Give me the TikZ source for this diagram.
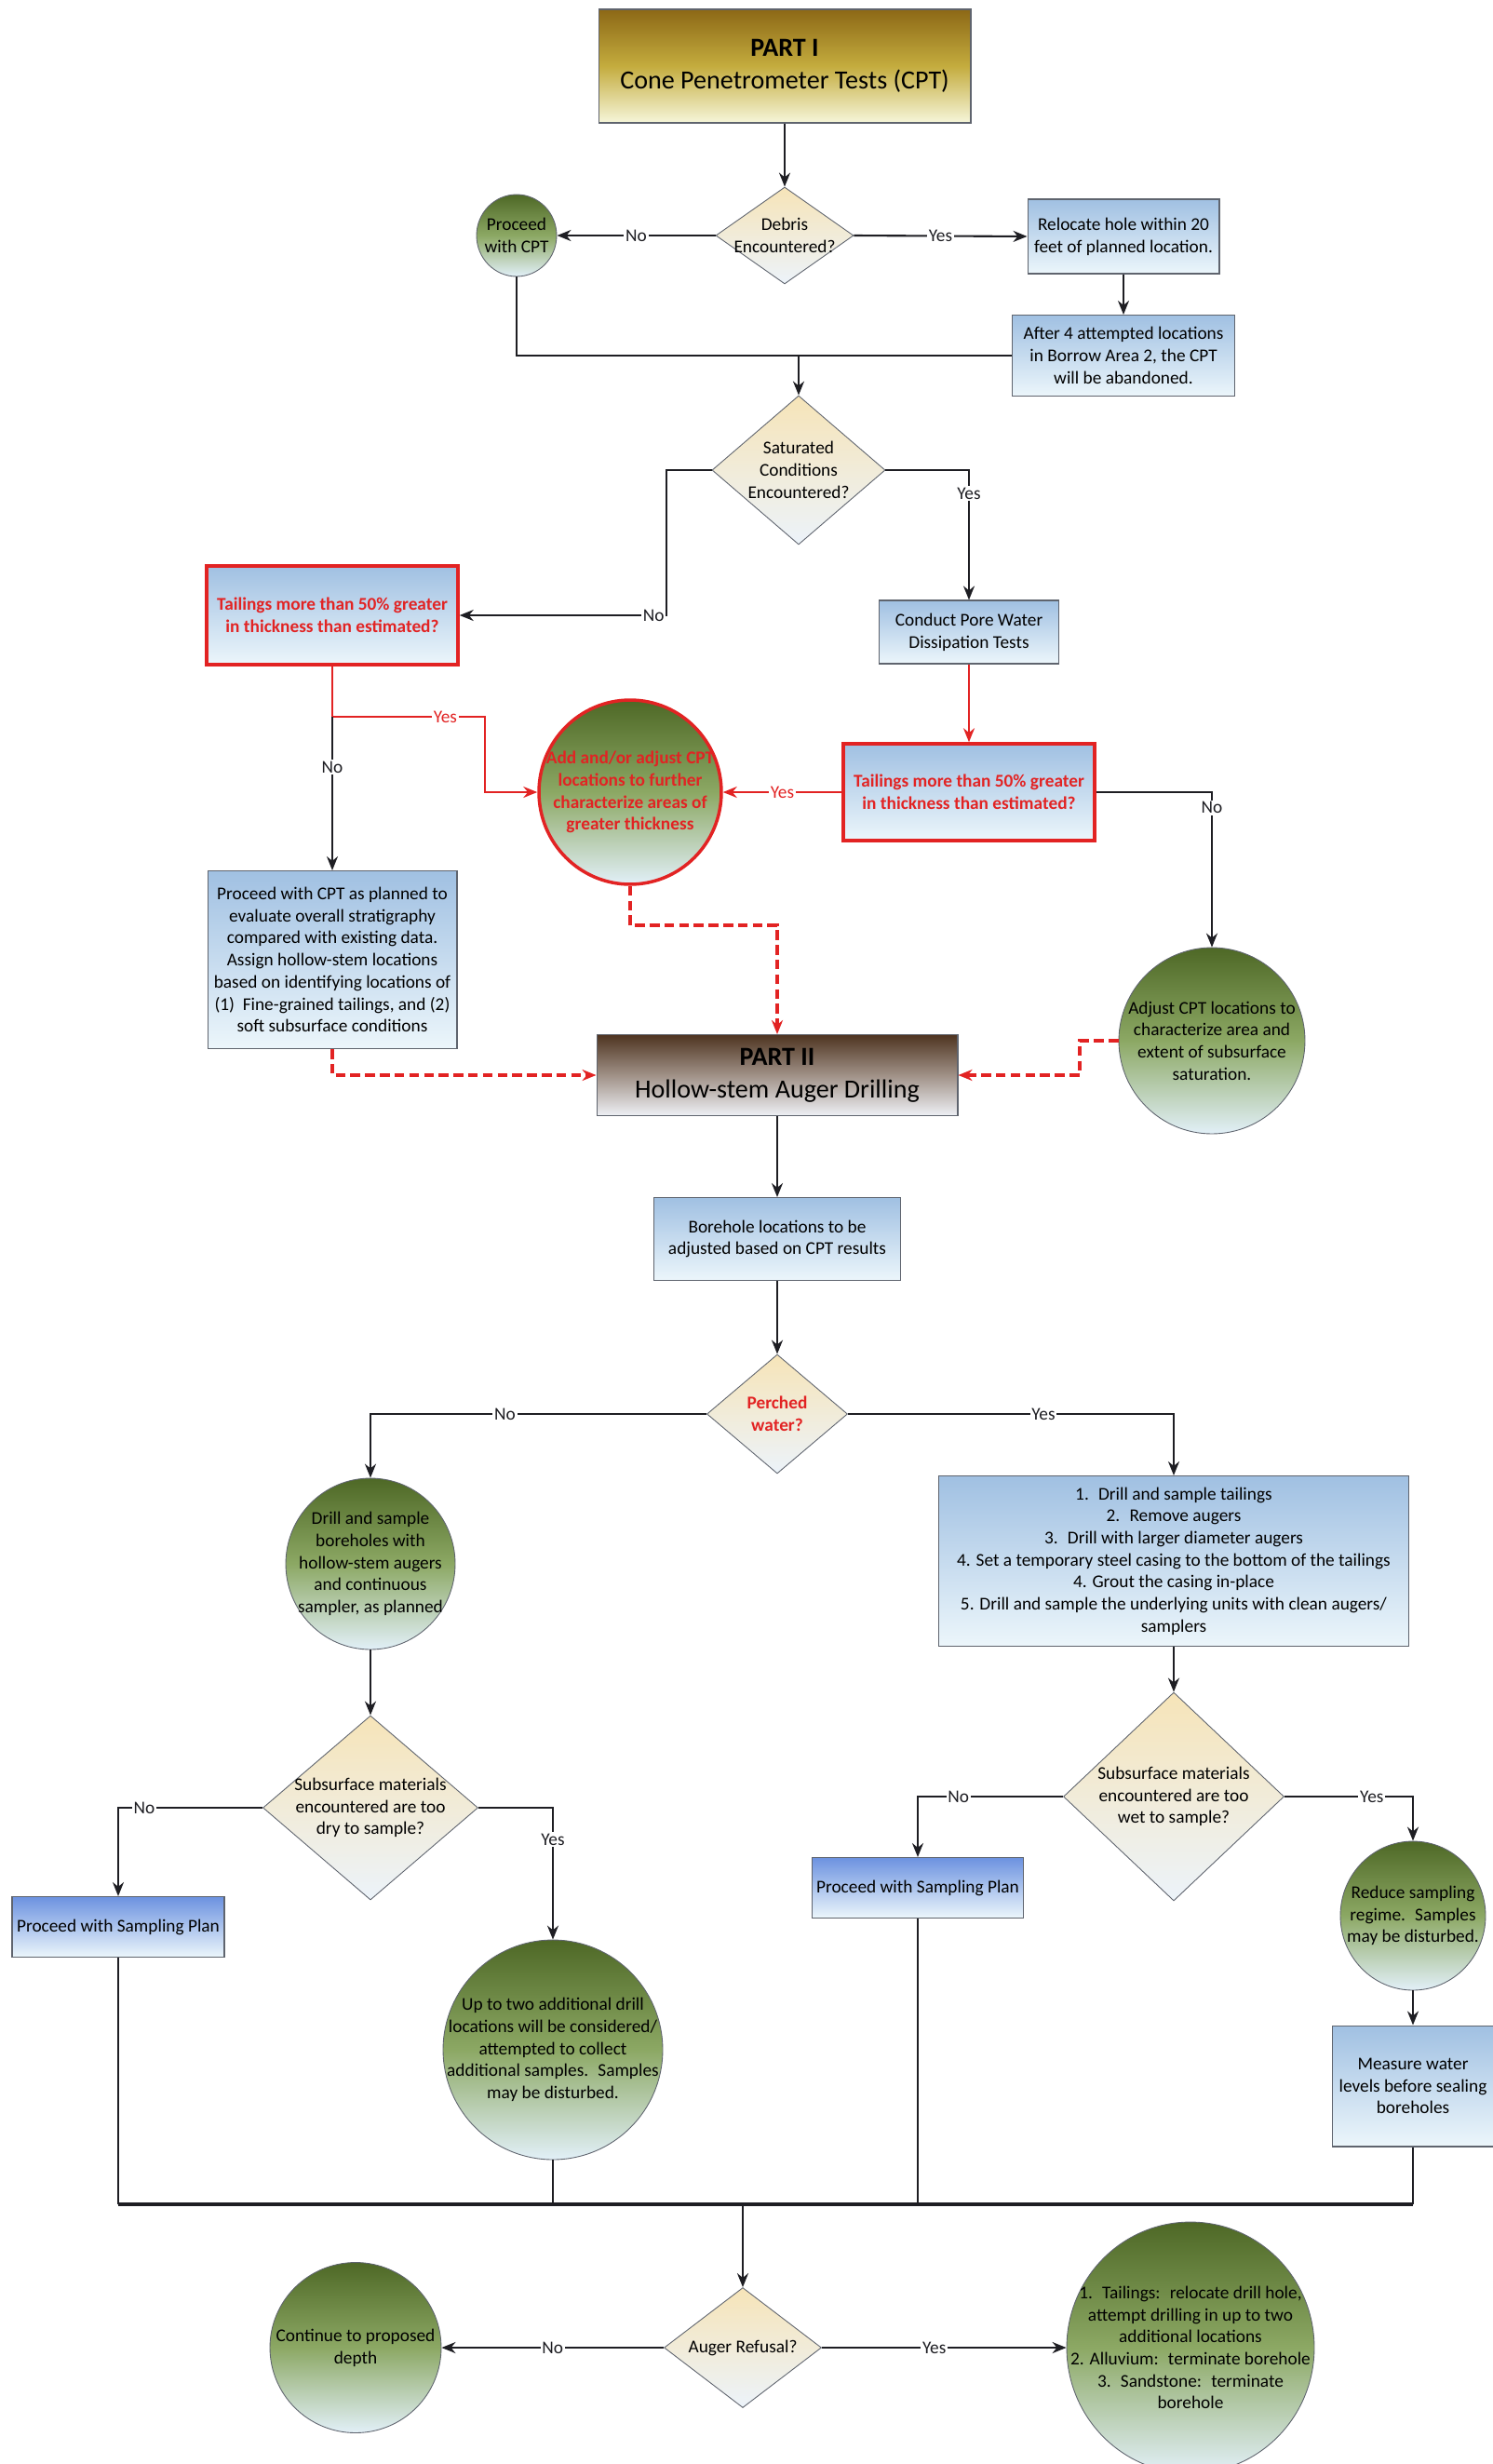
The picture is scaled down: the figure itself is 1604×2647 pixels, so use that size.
\documentclass[tikz,border=0pt]{standalone}
\usepackage{fontspec}
\setmainfont{Carlito}
\usetikzlibrary{arrows.meta,positioning,shapes.geometric,calc}
\definecolor{flowRed}{RGB}{226,35,35}
\definecolor{flowInk}{RGB}{30,30,35}
\definecolor{edgeGray}{RGB}{95,100,110}
\definecolor{goldTop}{RGB}{140,104,22}
\definecolor{goldMid}{RGB}{196,172,62}
\definecolor{goldBot}{RGB}{246,246,218}
\definecolor{brownTop}{RGB}{78,52,32}
\definecolor{brownMid}{RGB}{160,145,135}
\definecolor{brownBot}{RGB}{238,240,245}
\definecolor{boxTop}{RGB}{160,192,226}
\definecolor{boxBot}{RGB}{236,246,251}
\definecolor{planTop}{RGB}{108,146,224}
\definecolor{leafTop}{RGB}{78,104,38}
\definecolor{leafMid}{RGB}{140,168,100}
\definecolor{leafBot}{RGB}{226,240,248}
\definecolor{sandTop}{RGB}{246,228,184}
\definecolor{sandBot}{RGB}{236,243,250}

\begin{document}
\begin{tikzpicture}[x=0.02cm, y=-0.02cm,
      font=\fontsize{11}{13.5}\selectfont, >={Stealth[length=3mm,width=2.4mm]},
      hd/.style={rectangle,draw=edgeGray,line width=0.6pt,align=center,
                 font=\fontsize{16}{20}\selectfont},
      bx/.style={rectangle,draw=edgeGray,line width=0.6pt,align=center,inner sep=1pt,
                 top color=boxTop,bottom color=boxBot},
      rq/.style={bx,draw=flowRed,line width=2pt,text=flowRed,font=\fontsize{11}{13.5}\selectfont\bfseries},
      pl/.style={bx,top color=planTop,bottom color=boxBot},
      dc/.style={diamond,draw=edgeGray,line width=0.5pt,inner sep=0pt,
                 top color=sandTop,bottom color=sandBot},
      cr/.style={ellipse,draw=edgeGray,line width=0.5pt,inner sep=0pt,
                 top color=leafTop,bottom color=leafBot,middle color=leafMid},
      tx/.style={align=center,inner sep=0pt},
      ln/.style={draw=flowInk,line width=1.2pt},
      ar/.style={ln,->},
      arR/.style={->,flowRed,line width=1.2pt},
      dashR/.style={->,flowRed,line width=1.8pt,dash pattern=on 6pt off 3pt},
      lb/.style={fill=white,inner sep=1pt,text=flowInk},
      lbR/.style={lb,text=flowRed}]

    \fill[white] (0,0) rectangle (1604,2647);
    \useasboundingbox (0,0) rectangle (1604,2647);

    % part I
    \node[hd,minimum width=8cm,minimum height=2.44cm,top color=goldTop,bottom color=goldBot,
          middle color=goldMid] (part1) at (843,71) {\textbf{PART I}\\ Cone Penetrometer Tests (CPT)};
    \node[dc,minimum width=2.96cm,minimum height=2.08cm,
          label={[tx]center:{Debris\\Encountered?}}] (debris) at (843,253) {};
    \node[cr,minimum width=1.72cm,minimum height=1.76cm,
          label={[tx]center:{Proceed\\with CPT}}] (pcpt) at (555,253) {};
    \node[bx,minimum width=4.12cm,minimum height=1.6cm] (reloc) at (1207,254)
          {Relocate hole within 20\\ feet of planned location.};
    \node[bx,minimum width=4.78cm,minimum height=1.74cm] (after4) at (1207,382)
          {After 4 attempted locations\\ in Borrow Area 2, the CPT\\ will be abandoned.};
    \node[dc,minimum width=3.72cm,minimum height=3.2cm,
          label={[tx]center:{Saturated\\Conditions\\Encountered?}}] (sat) at (858,505) {};
    \node[rq,minimum width=5.4cm,minimum height=2.12cm] (tailL) at (357,661)
          {Tailings more than 50\% greater\\ in thickness than estimated?};
    \node[bx,minimum width=3.86cm,minimum height=1.36cm] (conduct) at (1041,679)
          {Conduct Pore Water\\ Dissipation Tests};
    \node[rq,minimum width=5.4cm,minimum height=2.08cm] (tailR) at (1041,851)
          {Tailings more than 50\% greater\\ in thickness than estimated?};
    \node[cr,draw=flowRed,line width=2pt,minimum width=3.92cm,minimum height=3.96cm,
          label={[tx,text=flowRed,font=\fontsize{11}{13.5}\selectfont\bfseries]center:{Add and/or adjust CPT\\locations to further\\characterize areas of\\greater thickness}}]
          (addC) at (677,851) {};
    \node[bx,minimum width=5.36cm,minimum height=3.82cm] (pcp) at (357,1031)
          {Proceed with CPT as planned to\\ evaluate overall stratigraphy\\ compared with existing data.\\
           Assign hollow-stem locations\\ based on identifying locations of\\
           (1)~ Fine-grained tailings, and (2)\\ soft subsurface conditions};
    \node[cr,minimum width=4cm,minimum height=4cm,
          label={[tx]center:{Adjust CPT locations to\\characterize area and\\extent of subsurface\\saturation.}}]
          (adjC) at (1302,1118) {};

    % part II
    \node[hd,minimum width=7.76cm,minimum height=1.74cm,top color=brownTop,bottom color=brownBot,
          middle color=brownMid] (part2) at (835,1155) {\textbf{PART II}\\ Hollow-stem Auger Drilling};
    \node[bx,minimum width=5.3cm,minimum height=1.78cm] (borehole) at (835,1331)
          {Borehole locations to be\\ adjusted based on CPT results};
    \node[dc,minimum width=3.02cm,minimum height=2.56cm,
          label={[tx,text=flowRed,font=\fontsize{11}{13.5}\selectfont\bfseries]center:{Perched\\water?}}]
          (perch) at (835,1519) {};
    \node[cr,minimum width=3.64cm,minimum height=3.68cm,
          label={[tx]center:{Drill and sample\\boreholes with\\hollow-stem augers\\and continuous\\sampler, as planned}}]
          (drill) at (398,1680) {};
    \node[bx,minimum width=10.1cm,minimum height=3.66cm] (steps) at (1261,1677)
          {1.~ Drill and sample tailings\\ 2.~ Remove augers\\ 3.~ Drill with larger diameter augers\\
           4. Set a temporary steel casing to the bottom of the tailings\\ 4. Grout the casing in-place\\
           5. Drill and sample the underlying units with clean augers/\\ samplers};
    \node[dc,minimum width=4.62cm,minimum height=3.96cm,
          label={[tx]center:{Subsurface materials\\encountered are too\\dry to sample?}}] (dry) at (398,1942) {};
    \node[pl,minimum width=4.56cm,minimum height=1.3cm] (psL) at (127,2070) {Proceed with Sampling Plan};
    \node[cr,minimum width=4.72cm,minimum height=4.72cm,
          label={[tx]center:{Up to two additional drill\\locations will be considered/\\attempted to collect\\additional samples.~ Samples\\may be disturbed.}}]
          (upto) at (594,2202) {};
    \node[dc,minimum width=4.74cm,minimum height=4.48cm,
          label={[tx]center:{Subsurface materials\\encountered are too\\wet to sample?}}] (wet) at (1261,1930) {};
    \node[pl,minimum width=4.54cm,minimum height=1.3cm] (psR) at (986,2028) {Proceed with Sampling Plan};
    \node[cr,minimum width=3.12cm,minimum height=3.2cm,
          label={[tx]center:{Reduce sampling\\regime.~ Samples\\may be disturbed.}}] (reduce) at (1518,2058) {};
    \node[bx,minimum width=3.48cm,minimum height=2.6cm] (measure) at (1518,2241)
          {Measure water\\ levels before sealing\\ boreholes};
    \node[dc,minimum width=3.38cm,minimum height=2.58cm,
          label={[tx]center:{Auger Refusal?}}] (auger) at (798,2522) {};
    \node[cr,minimum width=3.68cm,minimum height=3.66cm,
          label={[tx]center:{Continue to proposed\\depth}}] (cont) at (382,2522) {};
    \node[cr,minimum width=5.32cm,minimum height=5.4cm,
          label={[tx]center:{1.~ Tailings:~ relocate drill hole,\\attempt drilling in up to two\\additional locations\\2. Alluvium:~ terminate borehole\\3.~ Sandstone:~ terminate\\borehole}}]
          (refC) at (1279,2522) {};

    % connectors, part I
    \coordinate (j1) at (sat.north |- after4.west);
    \coordinate (b1) at (357,770);
    \coordinate (b2) at (521,770);
    \coordinate (d1) at (677,994);
    \coordinate (d2) at (1160,1118);
    \draw[ar] (part1) -- (debris);
    \draw[ar] (debris.west) -- node[lb]{No} (pcpt.east);
    \draw[ar] (debris.east) -- node[lb]{Yes} (reloc.west);
    \draw[ar] (reloc) -- (after4);
    \draw[ln] (pcpt.south) |- (after4.west);
    \draw[ar] (j1) -- (sat.north);
    \draw[ar] (sat.west) -- ++(-49,0) |- node[lb,pos=0.53]{No} (tailL.east);
    \draw[ar] (sat.east) -| node[lb,pos=0.59]{Yes} (conduct.north);
    \draw[arR] (conduct) -- (tailR);
    \draw[arR] (tailR) -- node[lbR]{Yes} (addC);
    \draw[ar] (tailR.east) -| node[lb,pos=0.55]{No} (adjC.north);
    \draw[flowRed,line width=1.2pt] (tailL.south) -- (b1);
    \draw[arR] (b1) -- node[lbR,pos=0.74]{Yes} (b2) |- (addC.west);
    \draw[ar] (b1) -- node[lb,pos=0.33]{No} (pcp.north);
    \draw[dashR] (addC.south) -- (d1) -| (part2.north);
    \draw[dashR] (pcp.south) |- (part2.west);
    \draw[dashR] (adjC.west) -- (d2) |- (part2.east);

    % connectors, part II
    \coordinate (j2) at (798,2368);
    \draw[ar] (part2) -- (borehole);
    \draw[ar] (borehole) -- (perch);
    \draw[ar] (perch.west) -| node[lb,pos=0.3]{No} (drill.north);
    \draw[ar] (perch.east) -| node[lb,pos=0.3]{Yes} (steps.north);
    \draw[ar] (drill) -- (dry);
    \draw[ar] (steps) -- (wet);
    \draw[ar] (dry.west) -| node[lb,pos=0.41]{No} (psL.north);
    \draw[ar] (dry.east) -| node[lb,pos=0.62]{Yes} (upto.north);
    \draw[ar] (wet.west) -| node[lb,pos=0.36]{No} (psR.north);
    \draw[ar] (wet.east) -| node[lb,pos=0.34]{Yes} (reduce.north);
    \draw[ar] (reduce) -- (measure);
    \draw[ln] (psL.south) -- (psL.south |- j2);
    \draw[ln] (upto.south) -- (upto.south |- j2);
    \draw[ln] (psR.south) -- (psR.south |- j2);
    \draw[ln] (measure.south) -- (measure.south |- j2);
    \draw[ln,line width=2.2pt] (psL.south |- j2) -- (measure.south |- j2);
    \draw[ar] (j2) -- (auger.north);
    \draw[ar] (auger.west) -- node[lb]{No} (cont.east);
    \draw[ar] (auger.east) -- node[lb,pos=0.46]{Yes} (refC.west);
  \end{tikzpicture}
\end{document}
